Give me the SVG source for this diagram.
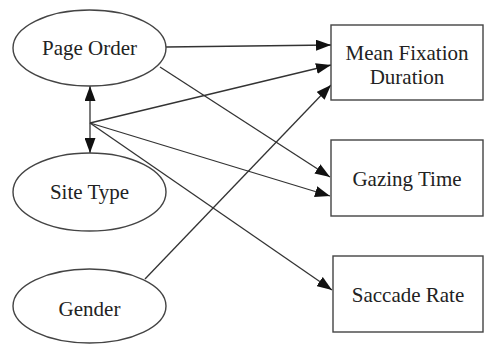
<svg xmlns="http://www.w3.org/2000/svg" width="488" height="345" viewBox="0 0 488 345">
<style>
.n{fill:#fff;stroke:#444;stroke-width:1.4}
.t{font-family:"Liberation Serif","Times New Roman",Times,serif;font-size:21px;fill:#222;text-anchor:middle}
.e{stroke:#333;stroke-width:1.3;fill:none}
</style>
<defs>
<marker id="a" markerUnits="userSpaceOnUse" markerWidth="15" markerHeight="11" refX="15" refY="5.5" orient="auto-start-reverse">
<path d="M0,0 L15,5.5 L0,11 z" fill="#111"/>
</marker>
</defs>
<rect width="488" height="345" fill="#fff"/>
<g id="connectors">
<line class="e" x1="166" y1="47" x2="331" y2="45" marker-end="url(#a)"/>
<line class="e" x1="90" y1="123" x2="331" y2="65" marker-end="url(#a)"/>
<line class="e" x1="145" y1="279" x2="331" y2="85" marker-end="url(#a)"/>
<line class="e" x1="160" y1="67" x2="330" y2="177" marker-end="url(#a)"/>
<line class="e" x1="90" y1="123" x2="330" y2="196" marker-end="url(#a)"/>
<line class="e" x1="90" y1="123" x2="332" y2="290" marker-end="url(#a)"/>
<line class="e" x1="90" y1="86" x2="90" y2="153" marker-start="url(#a)" marker-end="url(#a)"/>
</g>
<g id="page-order">
<ellipse class="n" cx="89.5" cy="48" rx="76.5" ry="38"/>
<text class="t" x="89.5" y="55">Page Order</text>
</g>
<g id="site-type">
<ellipse class="n" cx="89.5" cy="192" rx="76.5" ry="39"/>
<text class="t" x="89.5" y="199">Site Type</text>
</g>
<g id="gender">
<ellipse class="n" cx="89.5" cy="306" rx="76.5" ry="37"/>
<text class="t" x="89.5" y="316">Gender</text>
</g>
<g id="mean-fixation-duration">
<rect class="n" x="331" y="25" width="152" height="75"/>
<text class="t" x="407" y="60">Mean Fixation</text>
<text class="t" x="407" y="84">Duration</text>
</g>
<g id="gazing-time">
<rect class="n" x="331" y="140" width="152" height="76"/>
<text class="t" x="407" y="186">Gazing Time</text>
</g>
<g id="saccade-rate">
<rect class="n" x="333" y="256" width="150" height="76"/>
<text class="t" x="408" y="302">Saccade Rate</text>
</g>
</svg>
